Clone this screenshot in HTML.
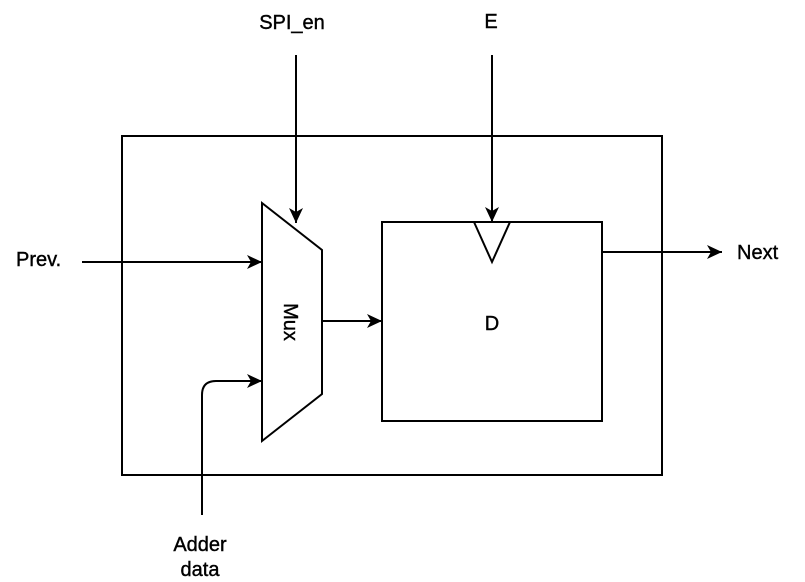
<!DOCTYPE html>
<html><head><style>body{margin:0;background:#fff}svg{display:block}</style></head><body>
<svg width="805" height="582" xmlns="http://www.w3.org/2000/svg" font-family="Liberation Sans, sans-serif">
<defs><marker id="a" markerWidth="16" markerHeight="14" refX="15" refY="7" orient="auto" markerUnits="userSpaceOnUse"><path d="M0,0 L15,7 L0,14 L4,7 Z" fill="#000"/></marker></defs>
<g stroke="#000" stroke-width="2" fill="none">
<rect x="122" y="136" width="540" height="339"/>
<rect x="382" y="222" width="220" height="199"/>
<path d="M474,222 L492,262 L510,222"/>
<path d="M262,203 L322,250 L322,394 L262,441 Z" fill="#fff"/>
<line x1="296" y1="55" x2="296" y2="223" marker-end="url(#a)"/>
<line x1="492" y1="55" x2="492" y2="222" marker-end="url(#a)"/>
<line x1="82" y1="262" x2="262" y2="262" marker-end="url(#a)"/>
<path d="M202,515 L202,395 Q202,381 216,381 L262,381" marker-end="url(#a)"/>
<line x1="322" y1="321" x2="382" y2="321" marker-end="url(#a)"/>
<line x1="602" y1="252" x2="722" y2="252" marker-end="url(#a)"/>
</g>
<g font-size="20" fill="#000" stroke="#000" stroke-width="0.4">
<text x="292" y="29" text-anchor="middle">SPI_en</text>
<text x="491" y="28" text-anchor="middle">E</text>
<text x="16" y="266">Prev.</text>
<text x="737" y="259">Next</text>
<text x="492" y="330" text-anchor="middle">D</text>
<text x="200" y="551" text-anchor="middle">Adder</text>
<text x="200" y="576" text-anchor="middle">data</text>
<text transform="translate(284,322) rotate(90)" text-anchor="middle">Mux</text>
</g>
</svg>
</body></html>
